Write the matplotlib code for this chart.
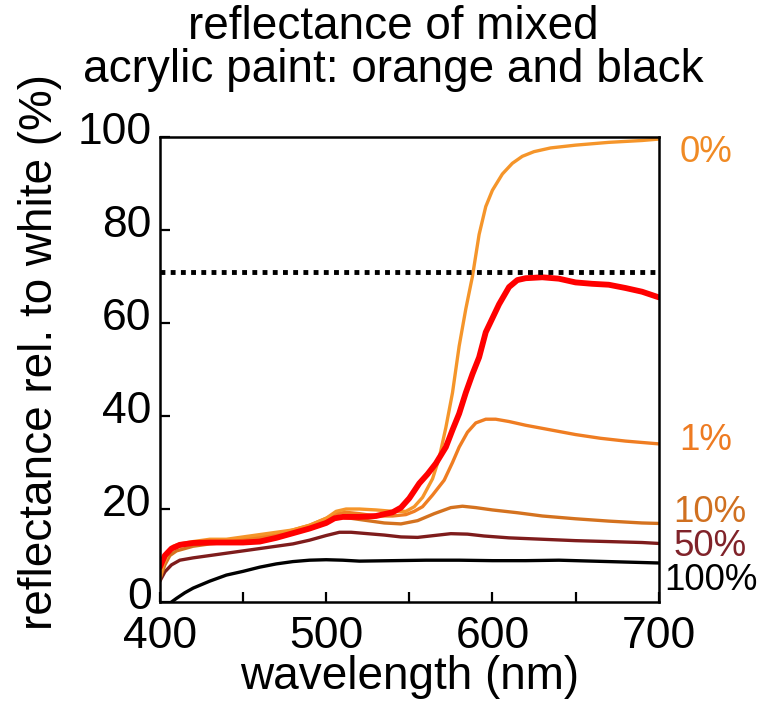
import matplotlib
matplotlib.use("Agg")
import matplotlib.pyplot as plt
from matplotlib.ticker import MultipleLocator
import matplotlib.transforms as mtransforms

plt.rcParams['font.family'] = ['Liberation Sans', 'DejaVu Sans']

# black fraction in the mix -> reflectance (%)
wl0 = [400, 402, 405, 408, 412, 420, 430, 440, 450, 460, 470, 480, 490, 500, 506, 512,
       520, 530, 540, 548, 553, 558, 564, 568, 572, 576, 580, 584, 588, 592, 596, 600,
       606, 612, 618, 625, 635, 650, 670, 690, 700]
r0 = [5, 8, 10.5, 12, 12.5, 13, 13.5, 13.5, 14, 14.5, 15, 15.5, 16.5, 18, 19.5, 20,
      20, 19.8, 19.5, 19.5, 20.5, 22.5, 26.5, 31, 37.5, 45, 55, 63, 70, 79, 85, 88.5,
      92, 94.3, 95.8, 96.8, 97.6, 98.2, 98.8, 99.2, 99.5]

wl1 = [400, 402, 405, 408, 412, 420, 430, 440, 450, 460, 470, 480, 490, 500, 506, 512,
       520, 530, 540, 548, 553, 558, 564, 571, 576, 580, 585, 590, 596, 602, 610, 620,
       635, 650, 665, 680, 690, 700]
r1 = [6, 9, 10.5, 11.5, 12, 12.5, 13, 13, 13.5, 14, 14.5, 15.5, 16.5, 18, 19, 19.3,
      19, 18.5, 18.5, 18.8, 19.5, 20.5, 23, 26.2, 30, 33.3, 36.5, 38.5, 39.3, 39.3, 38.8, 38,
      37, 36, 35.2, 34.6, 34.3, 34]

wl10 = [400, 403, 406, 410, 415, 420, 430, 440, 450, 460, 470, 480, 490, 500, 508, 515,
        525, 535, 545, 555, 565, 575, 582, 590, 600, 615, 630, 650, 670, 690, 700]
r10 = [5, 8, 10, 11, 11.5, 12, 12.5, 12.8, 13, 13.5, 14, 15, 16, 17.5, 18.3, 18,
       17.5, 17, 16.8, 17.5, 19, 20.3, 20.6, 20.3, 19.8, 19.2, 18.5, 17.9, 17.4, 17, 16.9]

wl50 = [400, 403, 407, 412, 420, 430, 440, 450, 460, 470, 480, 490, 500, 508, 515, 525,
        535, 545, 555, 565, 575, 585, 595, 610, 630, 650, 670, 690, 700]
r50 = [4.5, 6.5, 8, 9, 9.5, 10, 10.5, 11, 11.5, 12, 12.5, 13.3, 14.3, 15, 15, 14.7,
       14.4, 14, 13.9, 14.3, 14.7, 14.6, 14.2, 13.8, 13.5, 13.2, 13, 12.8, 12.6]

wl100 = [400, 405, 410, 415, 420, 430, 440, 450, 460, 470, 480, 490, 500, 510, 520, 540,
         560, 580, 600, 620, 640, 660, 680, 700]
r100 = [-1, -0.5, 0.8, 2, 3, 4.5, 5.8, 6.6, 7.5, 8.2, 8.7, 9, 9.1, 9.0, 8.8, 8.9,
        9.0, 9.0, 8.9, 8.9, 9.0, 8.8, 8.6, 8.4]

# red trace
wl_red = [400, 403, 407, 412, 420, 430, 440, 450, 460, 470, 480, 490, 500, 505, 510, 520,
          530, 540, 545, 550, 556, 561, 566, 572, 576, 580, 584, 588, 592, 596, 600, 604,
          610, 615, 620, 630, 640, 650, 660, 670, 680, 690, 700]
r_red = [7.5, 10, 11.5, 12.3, 12.7, 12.8, 12.8, 12.8, 13, 13.8, 14.8, 15.8, 17, 18, 18.3, 18.3,
         18.5, 19.3, 20.3, 22.3, 25.5, 27.5, 29.8, 33.3, 37, 40.5, 45, 49, 52.6, 58, 61, 64,
         67.7, 69.2, 69.6, 69.8, 69.5, 68.7, 68.4, 68.2, 67.5, 66.7, 65.5]

ref_level = 71

labels = ['0%', '1%', '10%', '50%', '100%']
label_y = [96.6, 34.8, 19.3, 12.0, 4.7]
label_x = [1.042, 1.042, 1.030, 1.030, 1.012]
colors = ['#F5952A', '#EF7D22', '#D4721F', '#7E1C1C', '#000000']
label_colors = ['#F08A24', '#EE7B22', '#D07020', '#80232A', '#000000']

fig = plt.figure(figsize=(7.65, 7.05), dpi=100)
ax = fig.add_axes([0.209, 0.146, 0.652, 0.660])

series = [(wl0, r0), (wl1, r1), (wl10, r10), (wl50, r50), (wl100, r100)]
# darker curves first so the light orange sits on top like the original
for i in [4, 3, 2, 1, 0]:
    x, y = series[i]
    ax.plot(x, y, color=colors[i], lw=2.4, solid_joinstyle='round')

ax.plot(wl_red, r_red, color='#FF0000', lw=4.2, solid_capstyle='round')
ax.plot([400, 700], [ref_level, ref_level], color='black', lw=3.5,
        linestyle=(0, (1, 1.1)), dash_capstyle='butt')

ax.set_xlim(400, 700)
ax.set_ylim(0, 100)
ax.xaxis.set_major_locator(MultipleLocator(100))
ax.xaxis.set_minor_locator(MultipleLocator(50))
ax.yaxis.set_major_locator(MultipleLocator(20))
ax.tick_params(direction='in', length=7, width=1.6, labelsize=32, pad=6,
               top=False, right=False)
ax.tick_params(axis='x', pad=10)
ax.tick_params(which='minor', direction='in', length=7, width=1.6, top=False)
for s in ax.spines.values():
    s.set_linewidth(1.8)

# y tick labels sit a little above their ticks in the original
shift = mtransforms.ScaledTranslation(0, 0.09, fig.dpi_scale_trans)
for lab in ax.get_yticklabels():
    lab.set_transform(lab.get_transform() + shift)

trans = mtransforms.blended_transform_factory(ax.transAxes, ax.transData)
for lab, ly, lx, c in zip(labels, label_y, label_x, label_colors):
    ax.text(lx, ly, lab, color=c, fontsize=26.5, ha='left', va='center',
            transform=trans, clip_on=False)

fig.text(0.514, 0.944, 'reflectance of mixed', ha='center', va='baseline', fontsize=33)
fig.text(0.514, 0.884, 'acrylic paint: orange and black', ha='center', va='baseline',
         fontsize=33)
fig.text(0.052, 0.50, 'reflectance rel. to white (%)', rotation=90,
         ha='center', va='center', fontsize=33)
fig.text(0.535, 0.040, 'wavelength (nm)', ha='center', va='center', fontsize=33)

fig.savefig('out.png', dpi=100)
